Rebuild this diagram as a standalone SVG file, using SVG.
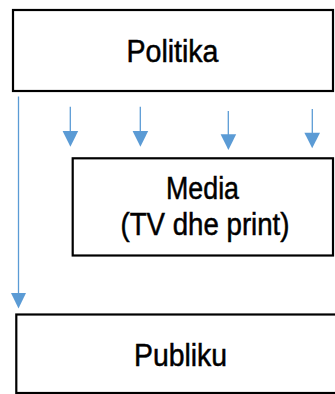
<svg xmlns="http://www.w3.org/2000/svg" width="335" height="394" viewBox="0 0 335 394">
<style>
.box{fill:#fff;stroke:#000;stroke-width:2.2}
.lbl{font-family:"Liberation Sans",Arial,sans-serif;font-size:31px;fill:#000;stroke:#000;stroke-width:0.5;text-anchor:middle}
.con{stroke:#5B9BD5;stroke-width:1.3;fill:none}
.head{fill:#5B9BD5}
</style>
<rect width="335" height="394" fill="#fff"/>
<g id="politika">
<rect class="box" x="13" y="10" width="320" height="81"/>
<text class="lbl" x="172.5" y="61.5" textLength="92" lengthAdjust="spacingAndGlyphs">Politika</text>
</g>
<g id="media">
<rect class="box" x="72.7" y="158.3" width="260.3" height="97.2"/>
<text class="lbl" x="202.5" y="199" textLength="73" lengthAdjust="spacingAndGlyphs">Media</text>
<text class="lbl" x="205" y="235" textLength="169" lengthAdjust="spacingAndGlyphs">(TV dhe print)</text>
</g>
<g id="publiku">
<rect class="box" x="16.3" y="314.5" width="330" height="78.5"/>
<text class="lbl" x="180.5" y="365.5" textLength="93" lengthAdjust="spacingAndGlyphs">Publiku</text>
</g>
<g id="connectors">
<line class="con" x1="18.5" y1="96.5" x2="18.5" y2="294"/>
<polygon class="head" points="11,293 26,293 18.5,308.5"/>
<line class="con" x1="70.3" y1="106.7" x2="70.3" y2="132"/>
<polygon class="head" points="62.6,131 78.2,131 70.4,146.7"/>
<line class="con" x1="140.3" y1="106.7" x2="140.3" y2="132"/>
<polygon class="head" points="132.6,131 148.2,131 140.4,146.7"/>
<line class="con" x1="228.3" y1="111" x2="228.3" y2="135"/>
<polygon class="head" points="220.6,134.3 236.2,134.3 228.4,150"/>
<line class="con" x1="312.3" y1="109" x2="312.3" y2="133"/>
<polygon class="head" points="304.4,132.7 320,132.7 312.2,148.3"/>
</g>
</svg>
